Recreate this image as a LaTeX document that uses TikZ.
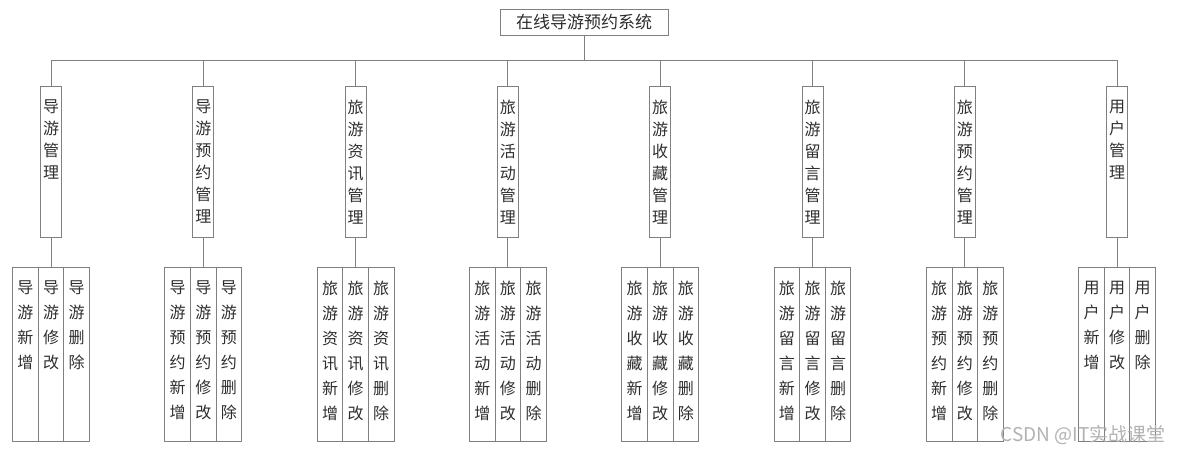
\documentclass[tikz,border=0pt]{standalone}
\usepackage{fontspec}
\usepackage{tikz}
\usetikzlibrary{positioning,calc}
\newfontfamily\cjk{Noto Sans CJK SC}
\definecolor{ChartLine}{gray}{0.50}
\definecolor{ChartText}{gray}{0.18}
\definecolor{ChartMark}{gray}{0.70}

% stack the characters of a word one below the other
\makeatletter
\def\vstk#1{\vstk@a#1\@nil}
\def\vstk@a#1#2\@nil{#1\ifx\relax#2\relax\else\\\vstk@a#2\@nil\fi}
\makeatother
\newcommand\colbox[3]{\edef\coltmp{#3}%
  \parbox[t][#1][t]{18pt}{\centering\fontsize{16}{#2}\selectfont\vspace*{13.5pt}%
  \expandafter\vstk\expandafter{\coltmp}}}

\begin{document}
\begin{tikzpicture}[x=1pt,y=-1pt,
  box/.style={draw=ChartLine,line width=0.9pt,inner sep=0pt,anchor=north,text=ChartText,font=\cjk},
  link/.style={draw=ChartLine,line width=0.9pt}]
  \useasboundingbox[fill=white] (0,0) rectangle (1182,454);
  \node[box,anchor=center,minimum width=168,minimum height=26,font=\cjk\fontsize{17}{20}\selectfont] (root) at (584,22) {在线导游预约系统};
  \coordinate (bus) at (584,60);
  \draw[link] (root) -- (bus);
  \foreach \pre [count=\i] in {导游,导游预约,旅游资讯,旅游活动,旅游收藏,旅游留言,旅游预约,用户}{
    \pgfmathsetmacro\cx{51+152.3*(\i-1)}
    \node[box,minimum width=21] (m\i) at (\cx,86) {\colbox{151pt}{22pt}{\pre 管理}};
    \node[box,minimum width=25.6] (a\i) at (\cx-25.6,267) {\colbox{174pt}{25pt}{\pre 新增}};
    \node[box,minimum width=25.6] (b\i) at (\cx,267) {\colbox{174pt}{25pt}{\pre 修改}};
    \node[box,minimum width=25.6] (c\i) at (\cx+25.6,267) {\colbox{174pt}{25pt}{\pre 删除}};
    \draw[link] (m\i.north) |- (bus);
    \draw[link] (m\i) -- (b\i);
  }
  \node[text=ChartMark,font=\cjk\fontsize{19}{22}\selectfont,inner sep=0pt] (mark) at (1083,435) {CSDN @IT实战课堂};
\end{tikzpicture}
\end{document}
